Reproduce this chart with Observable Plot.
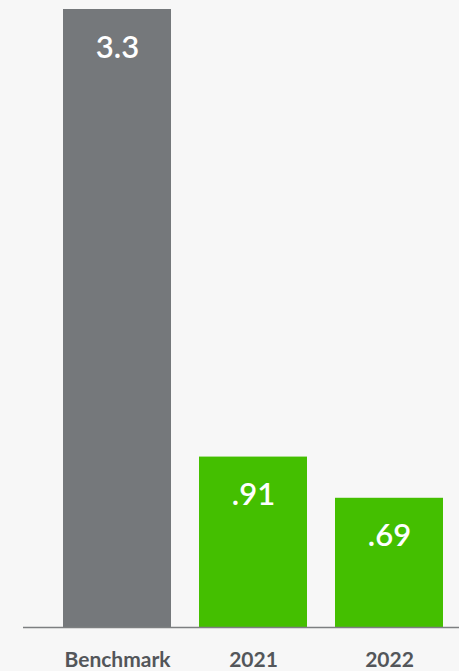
<!DOCTYPE html>
<html>
<head>
<meta charset="utf-8">
<script src="https://cdn.jsdelivr.net/npm/d3@7"></script>
<script src="https://cdn.jsdelivr.net/npm/@observablehq/plot@0.6"></script>
<style>
  html, body { margin: 0; padding: 0; background: #f7f7f7; }
  #chart svg { display: block; }
</style>
</head>
<body>
<div id="chart"></div>
<script>
const categories = ["Benchmark", "2021", "2022"];
const values = [3.3, 0.91, 0.69];
const labels = ["3.3", ".91", ".69"];
const colors = ["#75787b", "#44bf00", "#44bf00"];

const data = categories.map((c, i) => ({category: c, value: values[i], label: labels[i], color: colors[i]}));

const chart = Plot.plot({
  width: 459,
  height: 671,
  marginTop: 9,
  marginBottom: 44,
  marginLeft: 23,
  marginRight: 0,
  style: {background: "#f7f7f7", fontFamily: "Lato, 'Open Sans', sans-serif"},
  x: {domain: categories, range: [48.35, 456.65], paddingInner: 0.2088, paddingOuter: 0.1, label: null},
  y: {domain: [0, 3.3], axis: null},
  marks: [
    Plot.barY(data, {x: "category", y: "value", fill: "color"}),
    Plot.ruleY([0], {stroke: "#7d7f81", strokeWidth: 1.5}),
    Plot.text(data, {x: "category", y: "value", text: "label", fill: "white", fontSize: 31, fontWeight: 600, lineAnchor: "top", dy: 26}),
    Plot.axisX({tickSize: 0, tickPadding: 25, fontSize: 21, fontWeight: "bold", color: "#53565a", label: null})
  ]
});
document.getElementById("chart").append(chart);
</script>
</body>
</html>
